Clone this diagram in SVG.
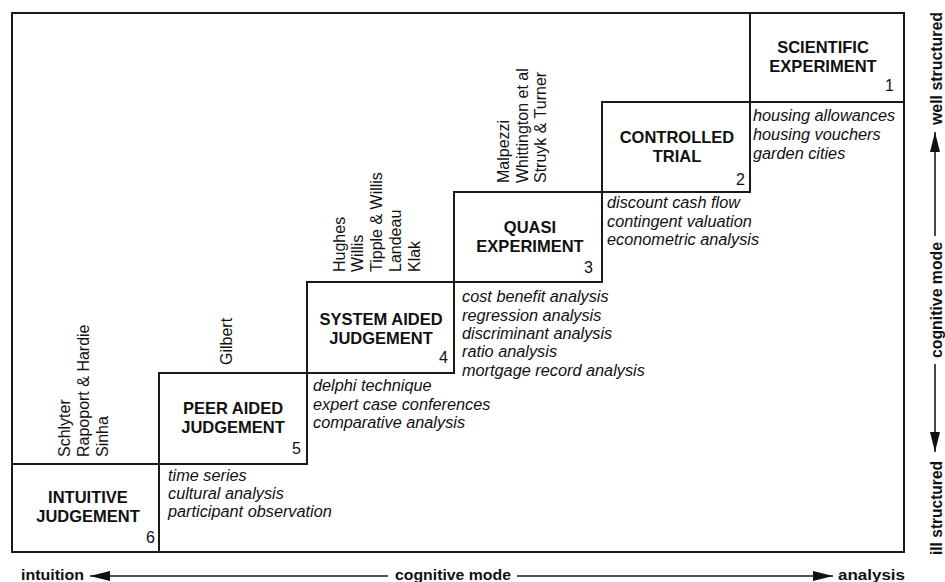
<svg xmlns="http://www.w3.org/2000/svg" width="945" height="582" viewBox="0 0 945 582">
  <style>
    .bx { fill: none; stroke: #1a1a1a; stroke-width: 2; }
    .ttl { font-family: "Liberation Sans", Arial, sans-serif; font-weight: bold; font-size: 16.5px; fill: #111; text-anchor: middle; }
    .num { font-family: "Liberation Sans", Arial, sans-serif; font-size: 16px; fill: #111; text-anchor: end; }
    .lst { font-family: "Liberation Sans", Arial, sans-serif; font-style: italic; font-size: 16.3px; fill: #111; }
    .au { font-family: "Liberation Sans", Arial, sans-serif; font-size: 16px; fill: #111; }
    .ax { font-family: "Liberation Sans", Arial, sans-serif; font-weight: bold; font-size: 15px; fill: #111; }
    .axv { font-family: "Liberation Sans", Arial, sans-serif; font-weight: bold; font-size: 17px; fill: #111; }
    .axl { stroke: #1a1a1a; stroke-width: 1.6; fill: none; marker-end: url(#tip); }
  </style>
  <defs>
    <marker id="tip" viewBox="0 0 20 10" refX="20" refY="5" markerWidth="20" markerHeight="11" markerUnits="userSpaceOnUse" orient="auto">
      <path d="M0,0 L20,5 L0,10 z" fill="#111"/>
    </marker>
  </defs>
  <rect width="945" height="582" fill="#ffffff"/>

  <!-- outer frame -->
  <g id="frame">
    <rect class="bx" x="12" y="13" width="892" height="539"/>
  </g>

  <!-- 1: scientific experiment -->
  <g id="scientific-experiment">
    <rect class="bx" x="750" y="13" width="154" height="89"/>
    <text class="ttl" x="823" y="53">SCIENTIFIC</text>
    <text class="ttl" x="823" y="72">EXPERIMENT</text>
    <text class="num" x="894" y="91">1</text>
    <text class="lst" x="753" y="121">housing allowances</text>
    <text class="lst" x="753" y="140">housing vouchers</text>
    <text class="lst" x="753" y="159">garden cities</text>
  </g>

  <!-- 2: controlled trial -->
  <g id="controlled-trial">
    <rect class="bx" x="602" y="102" width="148" height="90"/>
    <text class="ttl" x="677" y="143">CONTROLLED</text>
    <text class="ttl" x="677" y="162">TRIAL</text>
    <text class="num" x="745" y="185">2</text>
    <text class="lst" x="607" y="208">discount cash flow</text>
    <text class="lst" x="607" y="227">contingent valuation</text>
    <text class="lst" x="607" y="245">econometric analysis</text>
    <text class="au" transform="translate(509,183) rotate(-90)">
      <tspan x="0" y="0">Malpezzi</tspan>
      <tspan x="0" y="18.7">Whittington et al</tspan>
      <tspan x="0" y="37.4">Struyk &amp; Turner</tspan>
    </text>
  </g>

  <!-- 3: quasi experiment -->
  <g id="quasi-experiment">
    <rect class="bx" x="454" y="192" width="148" height="90"/>
    <text class="ttl" x="530" y="233">QUASI</text>
    <text class="ttl" x="530" y="252">EXPERIMENT</text>
    <text class="num" x="593" y="273">3</text>
    <text class="lst" x="462" y="302">cost benefit analysis</text>
    <text class="lst" x="462" y="320.5">regression analysis</text>
    <text class="lst" x="462" y="339">discriminant analysis</text>
    <text class="lst" x="462" y="357">ratio analysis</text>
    <text class="lst" x="462" y="375.5">mortgage record analysis</text>
    <text class="au" transform="translate(344.7,272) rotate(-90)">
      <tspan x="0" y="0">Hughes</tspan>
      <tspan x="0" y="18.75">Willis</tspan>
      <tspan x="0" y="37.5">Tipple &amp; Willis</tspan>
      <tspan x="0" y="56.25">Landeau</tspan>
      <tspan x="0" y="75">Klak</tspan>
    </text>
  </g>

  <!-- 4: system aided judgement -->
  <g id="system-aided-judgement">
    <rect class="bx" x="307" y="282" width="147" height="91"/>
    <text class="ttl" x="381" y="325">SYSTEM AIDED</text>
    <text class="ttl" x="381" y="343.5">JUDGEMENT</text>
    <text class="num" x="448" y="363">4</text>
    <text class="lst" x="313" y="391">delphi technique</text>
    <text class="lst" x="313" y="409.5">expert case conferences</text>
    <text class="lst" x="313" y="428">comparative analysis</text>
    <text class="au" transform="translate(232,365) rotate(-90)">Gilbert</text>
  </g>

  <!-- 5: peer aided judgement -->
  <g id="peer-aided-judgement">
    <rect class="bx" x="159" y="373" width="148" height="91"/>
    <text class="ttl" x="233" y="414">PEER AIDED</text>
    <text class="ttl" x="233" y="433">JUDGEMENT</text>
    <text class="num" x="301" y="454">5</text>
    <text class="lst" x="168" y="481">time series</text>
    <text class="lst" x="168" y="499">cultural analysis</text>
    <text class="lst" x="168" y="517">participant observation</text>
    <text class="au" transform="translate(70,457) rotate(-90)">
      <tspan x="0" y="0">Schlyter</tspan>
      <tspan x="0" y="19">Rapoport &amp; Hardie</tspan>
      <tspan x="0" y="38">Sinha</tspan>
    </text>
  </g>

  <!-- 6: intuitive judgement -->
  <g id="intuitive-judgement">
    <rect class="bx" x="12" y="464" width="147" height="88"/>
    <text class="ttl" x="88" y="503">INTUITIVE</text>
    <text class="ttl" x="88" y="522">JUDGEMENT</text>
    <text class="num" x="155" y="543">6</text>
  </g>

  <!-- axes -->
  <g id="connectors">
    <line class="axl" x1="388" y1="576" x2="90" y2="576"/>
    <line class="axl" x1="517" y1="576" x2="833" y2="576"/>
    <line class="axl" x1="935" y1="236" x2="935" y2="132"/>
    <line class="axl" x1="935" y1="364" x2="935" y2="452"/>
  </g>

  <g id="axis-labels">
    <text class="ax" x="21" y="580" textLength="63" lengthAdjust="spacingAndGlyphs">intuition</text>
    <text class="ax" x="395" y="580" textLength="116" lengthAdjust="spacingAndGlyphs">cognitive mode</text>
    <text class="ax" x="838" y="580" textLength="67" lengthAdjust="spacingAndGlyphs">analysis</text>
    <text class="axv" transform="translate(942,125) rotate(-90)" textLength="113" lengthAdjust="spacingAndGlyphs">well structured</text>
    <text class="axv" transform="translate(942,358) rotate(-90)" textLength="116" lengthAdjust="spacingAndGlyphs">cognitive mode</text>
    <text class="axv" transform="translate(942,555) rotate(-90)" textLength="94" lengthAdjust="spacingAndGlyphs">ill structured</text>
  </g>
</svg>
